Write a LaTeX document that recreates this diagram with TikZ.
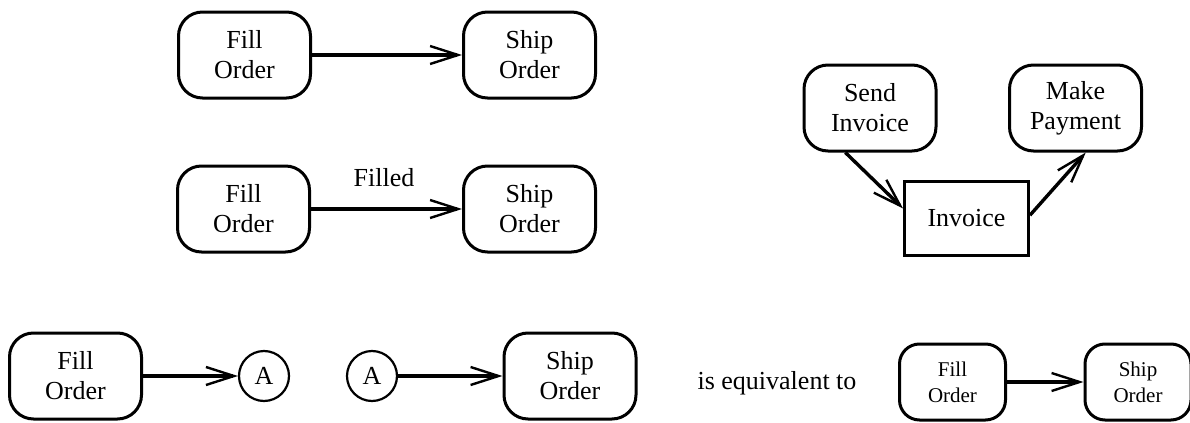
\documentclass[tikz,border=0pt]{standalone}
\usepackage{fontspec}
\setmainfont{Liberation Serif}
\usetikzlibrary{arrows.meta}

\begin{document}
\begin{tikzpicture}[x=0.5pt,y=-0.5pt,
              activity/.style={rounded corners=12pt,draw,line width=1.5pt,
                minimum width=66pt,minimum height=43pt,inner sep=0pt,align=center,
                font=\fontsize{13}{15}\selectfont},
              small activity/.style={activity,minimum width=53pt,minimum height=38pt,
                rounded corners=10pt,font=\fontsize{10.5}{13}\selectfont},
              object/.style={draw,line width=1.5pt,minimum width=62pt,minimum height=37pt,
                inner sep=0pt,font=\fontsize{13}{15}\selectfont},
              connector/.style={circle,draw,line width=1.1pt,minimum size=25pt,inner sep=0pt,
                font=\fontsize{13}{15}\selectfont},
              flow/.style={line width=1.7pt,-{Straight Barb[length=14pt,width=9pt,line width=1.2pt]}}]
              \useasboundingbox (0,0) rectangle (1190,423);
              % plain transition
              \node[activity] (FillTop) at (244.5,55) {Fill\\Order};
              \node[activity] (ShipTop) at (529.5,55) {Ship\\Order};
              \draw[flow] (FillTop) -- (ShipTop);
              % labelled transition
              \node[activity] (FillMid) at (243.5,209) {Fill\\Order};
              \node[activity] (ShipMid) at (529.5,209) {Ship\\Order};
              \node[font=\fontsize{13}{15}\selectfont] (Filled) at (384,178) {Filled};
              \draw[flow] (FillMid) -- (ShipMid);
              % object flow
              \node[activity] (Send) at (870,108) {Send\\Invoice};
              \node[activity] (Pay) at (1075.5,108) {Make\\Payment};
              \node[object] (Inv) at (966.5,218.5) {Invoice};
              \draw[flow] (Send.241) -- (Inv.171);
              \draw[flow] (Inv.3) -- (Pay.283);
              % connectors
              \node[activity] (FillLow) at (75.5,376) {Fill\\Order};
              \node[connector] (ConA) at (264,376) {A};
              \node[connector] (ConB) at (372,376) {A};
              \node[activity] (ShipLow) at (570,376) {Ship\\Order};
              \draw[flow] (FillLow) -- (ConA);
              \draw[flow] (ConB) -- (ShipLow);
              \node[font=\fontsize{13}{15}\selectfont] (Equiv) at (777,383) {is equivalent to};
              \node[small activity] (FillEq) at (952.5,382) {Fill\\Order};
              \node[small activity] (ShipEq) at (1138,382) {Ship\\Order};
              \draw[flow] (FillEq) -- (ShipEq);
            \end{tikzpicture}
\end{document}
